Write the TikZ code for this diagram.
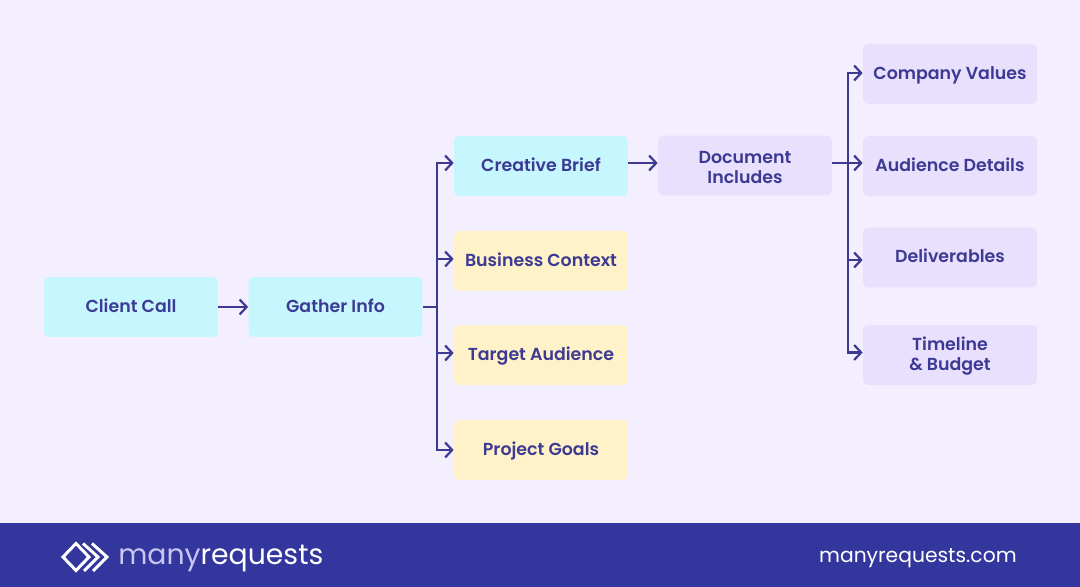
\documentclass[tikz,border=0pt]{standalone}
\usepackage{fontspec}
\setmainfont{Poppins}[BoldFont={Poppins SemiBold}]
\usetikzlibrary{arrows.meta}
\definecolor{pagebg}{HTML}{F3EFFF}
\definecolor{bandblue}{HTML}{33379D}
\definecolor{inkblue}{HTML}{3D3A94}
\definecolor{cyanbox}{HTML}{C6F6FE}
\definecolor{yellowbox}{HTML}{FFF1C8}
\definecolor{lilacbox}{HTML}{E8E0FD}
\definecolor{paleword}{HTML}{C9C6F2}
\newcommand{\cardtop}{\rule{0pt}{9.5pt}}
\tikzset{
  card/.style={minimum width=3.48cm,minimum height=1.2cm,rounded corners=0.1cm,align=center,
    text=inkblue,font=\fontsize{9.9}{11.4}\selectfont\bfseries},
  oneline/.style={text height=8.2pt,text depth=2.5pt},
  cyancard/.style={card,fill=cyanbox},
  yellowcard/.style={card,fill=yellowbox},
  lilaccard/.style={card,fill=lilacbox},
  link/.style={draw=inkblue,line width=1.25pt},
  linkto/.style={link,-{Straight Barb[length=4pt,width=8.5pt,line width=1.25pt]}},
  logoline/.style={draw=white,line width=1.7pt,miter limit=10}
}
\begin{document}
\begin{tikzpicture}[x=0.02cm,y=0.02cm]
\tikzstyle{every node}+=[inner sep=0pt]
\useasboundingbox (0,0) rectangle (1080,-587);
\fill [pagebg] (0,0) rectangle (1080,-587);
\fill [bandblue] (0,-523) rectangle (1080,-587);
\node [cyancard,oneline] (clientcall) at (131,-307) {Client Call};
\node [cyancard,oneline] (gatherinfo) at (335.5,-307) {Gather Info};
\node [cyancard,oneline] (creativebrief) at (541,-166) {Creative Brief};
\node [yellowcard,oneline] (businesscontext) at (541,-261) {Business Context};
\node [yellowcard,oneline] (targetaudience) at (541,-355) {Target Audience};
\node [yellowcard,oneline] (projectgoals) at (541,-450) {Project Goals};
\node [lilaccard] (documentincludes) at (745,-165.5) {\cardtop Document\\Includes};
\node [lilaccard,oneline] (companyvalues) at (950,-74) {Company Values};
\node [lilaccard,oneline] (audiencedetails) at (950,-166) {Audience Details};
\node [lilaccard,oneline] (deliverables) at (950,-257.5) {Deliverables};
\node [lilaccard] (timelinebudget) at (950,-355) {\cardtop Timeline\\\& Budget};
\coordinate (gatherhub) at (437,-307);
\coordinate (documenthub) at (848,-163);
\draw [linkto] (clientcall.east) -- (gatherinfo.west);
\draw [link] (gatherinfo.east) -- (gatherhub);
\draw [linkto] (gatherhub) |- ([yshift=0.06cm]creativebrief.west);
\draw [linkto] (gatherhub) |- ([yshift=0.04cm]businesscontext.west);
\draw [linkto] (gatherhub) |- ([yshift=0.04cm]targetaudience.west);
\draw [linkto] (gatherhub) |- (projectgoals.west);
\draw [linkto] (creativebrief.east |- documenthub) -- (documentincludes.west |- documenthub);
\draw [link] (documentincludes.east |- documenthub) -- (documenthub);
\draw [linkto] (documenthub) |- ([yshift=0.02cm]companyvalues.west);
\draw [linkto] (documenthub) -- (audiencedetails.west |- documenthub);
\draw [linkto] (documenthub) |- ([yshift=-0.05cm]deliverables.west);
\draw [linkto] (documenthub) |- ([yshift=0.05cm]timelinebudget.west);
\draw [logoline] (76,-543.5) -- (89,-557) -- (76,-570.5) -- (63,-557) -- cycle;
\draw [logoline] (83,-543.5) -- (98,-557) -- (84,-571);
\draw [logoline] (92,-543.5) -- (107,-557) -- (93,-571);
\node [anchor=base west,font=\fontsize{16.1}{18}\selectfont,text=white] (brandname) at (118,-565) {\textcolor{paleword}{many}requests};
\node [anchor=base east,font=\fontsize{11.55}{14}\selectfont,text=white] (siteaddress) at (1017,-563) {manyrequests.com};
\end{tikzpicture}
\end{document}
